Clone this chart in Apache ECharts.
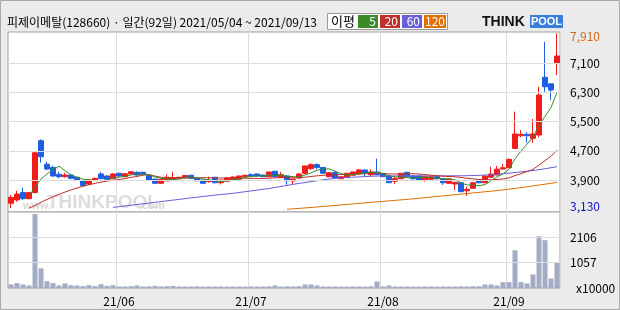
<!DOCTYPE html>
<html><head><meta charset="utf-8">
<script src="https://cdn.jsdelivr.net/npm/echarts@6/dist/echarts.min.js"></script>
<style>html,body{margin:0;padding:0;background:#ebebeb;}#c{width:620px;height:310px;}</style>
</head><body><div id="c"></div>
<script>
const dates = ['2021-05-04','2021-05-06','2021-05-07','2021-05-10','2021-05-11','2021-05-12','2021-05-13','2021-05-14','2021-05-17','2021-05-18','2021-05-20','2021-05-21','2021-05-24','2021-05-25','2021-05-26','2021-05-27','2021-05-28','2021-05-31',
'2021-06-01','2021-06-02','2021-06-03','2021-06-04','2021-06-07','2021-06-08','2021-06-09','2021-06-10','2021-06-11','2021-06-14','2021-06-15','2021-06-16','2021-06-17','2021-06-18','2021-06-21','2021-06-22','2021-06-23','2021-06-24','2021-06-25','2021-06-28','2021-06-29','2021-06-30',
'2021-07-01','2021-07-02','2021-07-05','2021-07-06','2021-07-07','2021-07-08','2021-07-09','2021-07-12','2021-07-13','2021-07-14','2021-07-15','2021-07-16','2021-07-19','2021-07-20','2021-07-21','2021-07-22','2021-07-23','2021-07-26','2021-07-27','2021-07-28','2021-07-29','2021-07-30',
'2021-08-02','2021-08-03','2021-08-04','2021-08-05','2021-08-06','2021-08-09','2021-08-10','2021-08-11','2021-08-12','2021-08-13','2021-08-17','2021-08-18','2021-08-19','2021-08-20','2021-08-23','2021-08-24','2021-08-25','2021-08-26','2021-08-27','2021-08-30','2021-08-31',
'2021-09-01','2021-09-02','2021-09-03','2021-09-06','2021-09-07','2021-09-08','2021-09-09','2021-09-10','2021-09-13'];

const openP = [3265,3355,3555,3390,3555,4975,4330,4245,4055,3990,
4035,3975,3875,3790,3890,4065,4010,3935,4085,3990,
4065,4110,4110,4030,3925,3810,3875,3925,3935,3955,
4030,3945,3900,3855,3975,3825,3865,3900,3920,3990,
4045,4065,4035,3990,4140,3975,4010,3875,3955,4085,
4210,4320,4245,3990,4100,3935,3975,4030,4065,4175,
4045,4120,4065,4010,3865,3935,4110,4010,4010,3900,
3920,3990,3935,3810,3790,3825,3605,3675,3880,3825,
3975,4035,4200,4235,4765,5110,5150,5040,5130,6710,
6530,7090];
const closeP = [3425,3515,3390,3555,4645,4535,4200,4010,3990,4035,
3945,3890,3745,3900,3945,3935,3920,4065,4010,4070,
4125,4035,4055,3900,3810,3920,3975,3965,3975,4020,
3945,3880,3810,3890,3825,3900,3955,3980,4010,4030,
4010,4010,3990,4120,3990,4045,3880,3925,4065,4285,
4320,4245,4085,4100,3955,3990,4085,4120,4175,4085,
4120,4045,3990,3825,3935,4085,3990,3935,3900,3990,
3990,3935,3825,3925,3835,3580,3645,3825,3825,4010,
4065,4195,4235,4465,5160,5150,5110,5160,6225,6450,
6360,7290];
const lowP = [3130,3305,3355,3370,3540,4375,4175,3990,3945,3965,
3925,3880,3735,3770,3875,3925,3900,3920,3990,3980,
4055,4020,4035,3890,3800,3800,3865,3920,3925,3945,
3925,3875,3800,3825,3810,3780,3855,3890,3910,3980,
3975,4000,3980,3980,3980,3965,3770,3790,3945,4070,
4175,4195,4070,3980,3945,3925,3965,4020,4055,4010,
3990,4035,3980,3820,3790,3925,3980,3910,3875,3855,
3900,3910,3765,3790,3625,3570,3460,3660,3810,3820,
3965,4030,4195,4230,4755,5070,4920,4920,5070,6315,
6090,6770];
const highP = [3490,3600,3690,3570,4670,5015,4400,4290,4125,4100,
4065,3990,3880,3925,3965,4120,4030,4090,4100,4090,
4145,4140,4125,4045,3935,3935,4055,4125,3980,4035,
4035,3965,3910,3990,3980,3910,3975,4000,4020,4035,
4085,4070,4045,4125,4145,4120,4020,3935,4090,4290,
4355,4355,4255,4110,4155,4000,4090,4125,4195,4185,
4195,4485,4070,4020,4000,4090,4125,4020,4020,4000,
4000,4000,3955,3935,3855,3835,3715,3835,3900,4020,
4265,4285,4340,4485,5770,5265,5205,5570,6450,7680,
6540,7910];

const ma5 = ['-','-','-',3460,3707,3929,4065,4189,4277,4155,
4037,3975,3922,3904,3886,3884,3889,3953,3975,4000,
4038,4062,4060,4038,3986,3944,3932,3913,3928,3970,
3975,3956,3926,3909,3871,3862,3877,3911,3934,3975,
3997,4008,4009,4031,4023,4031,4005,3992,3981,4040,
4095,4168,4199,4206,4141,4075,4042,4049,4064,4090,
4116,4108,4082,4013,3983,3976,3965,3954,3969,3980,
3961,3950,3928,3934,3903,3821,3763,3763,3743,3777,
3874,3984,4066,4194,4480,4690,4880,5070,5400,5640,
5880,6300];
const ma20 = ['-','-','-',3130,3200,3290,3370,3440,3510,3570,
3630,3680,3730,3770,3810,3840,3870,3890,3915,3937,
3972,3998,4031,4048,4007,3976,3964,3962,3961,3960,
3960,3960,3963,3963,3957,3955,3957,3953,3953,3950,
3945,3943,3940,3951,3960,3966,3961,3960,3964,3977,
3996,4014,4028,4038,4045,4049,4056,4063,4071,4073,
4079,4081,4081,4066,4063,4065,4071,4071,4063,4048,
4032,4016,4004,3995,3989,3969,3947,3932,3915,3911,
3908,3916,3928,3960,4021,4074,4130,4192,4308,4431,
4549,4717];
const ma60 = ['-','-','-','-','-','-','-','-','-','-',
'-','-','-','-','-','-','-',3150,3170,3190,
3210,3230,3250,3270,3290,3310,3330,3350,3370,3390,
3410,3430,3450,3468,3486,3504,3520,3536,3558,3580,
3602,3624,3646,3668,3696,3724,3752,3780,3808,3830,
3855,3880,3905,3925,3945,3960,3970,3978,3985,3995,
4003,4008,4010,4010,4011,4011,4012,4012,4013,4013,
4013,4014,4014,4014,4015,4015,4018,4022,4028,4036,
4045,4058,4072,4088,4105,4122,4140,4160,4182,4208,
4236,4264];
const ma120 = ['-','-','-','-','-','-','-','-','-','-',
'-','-','-','-','-','-','-','-','-','-',
'-','-','-','-','-','-','-','-','-','-',
'-','-','-','-','-','-','-','-','-','-',
'-','-','-','-','-','-',3100,3112,3124,3136,
3149,3162,3176,3190,3204,3218,3232,3246,3260,3274,
3288,3302,3316,3330,3343,3356,3370,3386,3402,3418,
3434,3450,3466,3482,3498,3514,3530,3546,3562,3578,
3594,3612,3630,3650,3670,3692,3714,3738,3762,3786,
3810,3837];

const volume = [147,201,147,105,3084,818,285,201,105,189,
117,105,76,117,76,159,90,117,63,63,
76,105,63,70,90,63,76,90,63,60,
63,70,60,63,60,63,60,58,63,60,
63,60,63,70,105,63,70,63,76,147,
147,105,63,60,63,60,58,60,63,60,
70,273,63,105,63,60,63,60,58,60,
63,60,63,60,63,70,63,70,76,147,
147,105,245,245,1573,245,189,566,2161,1993,
399,1041];

const priceTicks = [3900, 4700, 5500, 6300, 7100];
const priceMaxLabel = 7910, priceMinLabel = 3130;
const volTicks = [1057, 2106];

const FONT = "'Noto Sans CJK KR', sans-serif";
const UP = '#f01c1c', DOWN = '#1d5fe0';
const GRIDC = '#dcdcdc';
const CLEAR = 'rgba(0,0,0,0)';
const fmt = v => String(v).replace(/\B(?=(\d{3})+(?!\d))/g, ',');
const monthStart = (idx) => idx > 0 && dates[idx].slice(5,7) !== dates[idx-1].slice(5,7);
const candles = dates.map((d,i) => [openP[i], closeP[i], lowP[i], highP[i]]);

const chart = echarts.init(document.getElementById('c'), null, {renderer:'canvas'});
const axisLabelStyle = {color:'#000', fontSize:12, fontFamily:FONT};

chart.setOption({
  animation:false,
  backgroundColor:'#ebebeb',
  grid:[
    {left:8, top:32, width:552, height:180, show:true, backgroundColor:'#fff', borderColor:'#a0a0a0', borderWidth:1},
    {left:8, top:212, width:552, height:76, show:true, backgroundColor:'#fff', borderColor:'#a0a0a0', borderWidth:1}
  ],
  xAxis:[
    {type:'category', gridIndex:0, data:dates, boundaryGap:true, axisLine:{show:false}, axisTick:{show:false}, axisLabel:{show:false},
     splitLine:{show:true, interval:monthStart, lineStyle:{color:GRIDC, width:1}}},
    {type:'category', gridIndex:1, data:dates, boundaryGap:true, axisLine:{show:false}, axisTick:{show:false},
     axisLabel:{show:true, interval:monthStart, margin:7, formatter:v => v.slice(2,4)+'/'+v.slice(5,7), ...axisLabelStyle},
     splitLine:{show:true, interval:monthStart, lineStyle:{color:GRIDC, width:1}}}
  ],
  yAxis:[
    {type:'value', gridIndex:0, min:3025, max:7948, position:'right', axisLine:{show:false}, axisTick:{show:false}, axisLabel:{show:false}, splitLine:{show:false}},
    {type:'value', gridIndex:1, min:0, max:3168, position:'right', axisLine:{show:false}, axisTick:{show:false}, axisLabel:{show:false}, splitLine:{show:false}}
  ],
  graphic:[
    {type:'rect', shape:{x:0.5,y:0.5,width:619,height:309}, style:{fill:'none', stroke:'#a8a8a8', lineWidth:1}, z:0},
    {type:'text', x:7, y:22, style:{text:'피제이메탈(128660) · 일간(92일) 2021/05/04 ~ 2021/09/13', fill:'#000', font:'12px '+FONT, verticalAlign:'middle'}},
    {type:'group', children:[
      {type:'rect', shape:{x:327.5,y:13.5,width:120,height:16}, style:{fill:'#fff', stroke:'#9a9a9a', lineWidth:1}},
      {type:'text', x:331, y:21.5, style:{text:'이평', fill:'#000', font:'13px '+FONT, verticalAlign:'middle'}},
      {type:'rect', shape:{x:358,y:15,width:20,height:13}, style:{fill:'#3a8a2a'}},
      {type:'text', x:376, y:21.5, style:{text:'5', fill:'#fff', font:'12px '+FONT, align:'right', verticalAlign:'middle'}},
      {type:'rect', shape:{x:380,y:15,width:20,height:13}, style:{fill:'#c0302a'}},
      {type:'text', x:398, y:21.5, style:{text:'20', fill:'#fff', font:'12px '+FONT, align:'right', verticalAlign:'middle'}},
      {type:'rect', shape:{x:402,y:15,width:20,height:13}, style:{fill:'#6a5fd8'}},
      {type:'text', x:420, y:21.5, style:{text:'60', fill:'#fff', font:'12px '+FONT, align:'right', verticalAlign:'middle'}},
      {type:'rect', shape:{x:424,y:15,width:22,height:13}, style:{fill:'#e07000'}},
      {type:'text', x:445, y:21.5, style:{text:'120', fill:'#fff', font:'12px '+FONT, align:'right', verticalAlign:'middle'}}
    ]},
    {type:'group', children:[
      {type:'text', x:482, y:22, style:{text:'THINK', fill:'#111', font:'bold 14px "Liberation Sans", Arial', verticalAlign:'middle'}},
      {type:'rect', shape:{x:530,y:15,width:33,height:13}, style:{fill:'#3b7ddb'}},
      {type:'text', x:546.5, y:22, style:{text:'POOL', fill:'#fff', font:'bold 11px "Liberation Sans", Arial', align:'center', verticalAlign:'middle'}}
    ]},
    {type:'group', z:1, children:[
      {type:'text', x:23, y:206, style:{text:'www.', fill:'#d6d6d6', font:'bold 11px "Liberation Sans", Arial', verticalAlign:'middle'}},
      {type:'text', x:47, y:203, style:{text:'THINKPOOL', fill:'#dcdcdc', font:'bold 19px "Liberation Sans", Arial', verticalAlign:'middle'}},
      {type:'text', x:139, y:206, style:{text:'.com', fill:'#d6d6d6', font:'bold 11px "Liberation Sans", Arial', verticalAlign:'middle'}}
    ]},
    {type:'text', x:576, y:288, style:{text:'x10000', fill:'#000', font:'12px '+FONT, verticalAlign:'middle'}}
  ],
  series:[
    {type:'line', xAxisIndex:0, yAxisIndex:0, data:[], z:1, silent:true,
     markLine:{silent:true, symbol:['none','none'], animation:false,
       lineStyle:{color:GRIDC, width:1, type:'solid'},
       label:{show:true, position:'end', distance:10, formatter:p => fmt(p.value), ...axisLabelStyle},
       data:[...priceTicks.map(v => ({yAxis:v})),
             {yAxis:priceMaxLabel, lineStyle:{color:CLEAR}, label:{color:'#d2691e', offset:[0,3]}},
             {yAxis:priceMinLabel, lineStyle:{color:CLEAR}, label:{color:'#1010c8', offset:[0,-2]}}]}},
    {type:'line', xAxisIndex:1, yAxisIndex:1, data:[], z:1, silent:true,
     markLine:{silent:true, symbol:['none','none'], animation:false,
       lineStyle:{color:GRIDC, width:1, type:'solid'},
       label:{show:true, position:'end', distance:10, formatter:p => String(p.value), ...axisLabelStyle},
       data:volTicks.map(v => ({yAxis:v}))}},
    {type:'bar', xAxisIndex:1, yAxisIndex:1, data:volume, barWidth:5, itemStyle:{color:'#a3abc5'}, z:2},
    {type:'candlestick', xAxisIndex:0, yAxisIndex:0, data:candles, barWidth:5,
     itemStyle:{color:UP, color0:DOWN, borderColor:UP, borderColor0:DOWN, borderWidth:1}, z:2},
    {type:'line', xAxisIndex:0, yAxisIndex:0, data:ma120, showSymbol:false, lineStyle:{color:'#e07000', width:1}, z:3},
    {type:'line', xAxisIndex:0, yAxisIndex:0, data:ma60, showSymbol:false, lineStyle:{color:'#6a5fd8', width:1}, z:3},
    {type:'line', xAxisIndex:0, yAxisIndex:0, data:ma20, showSymbol:false, lineStyle:{color:'#c0302a', width:1}, z:3},
    {type:'line', xAxisIndex:0, yAxisIndex:0, data:ma5, showSymbol:false, lineStyle:{color:'#3a8a2a', width:1}, z:3}
  ]
});
</script></body></html>
